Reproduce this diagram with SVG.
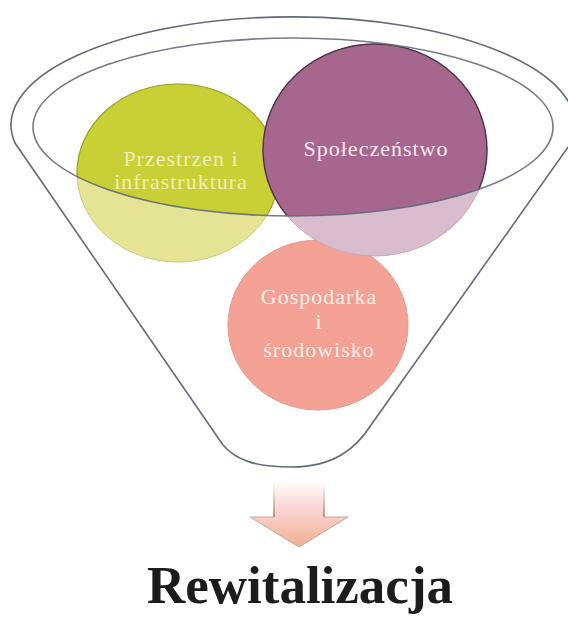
<svg xmlns="http://www.w3.org/2000/svg" width="568" height="617" viewBox="0 0 568 617">
  <style>
    .rim { fill: none; stroke: #646a7a; stroke-width: 1.6; }
    .lbl { font-family: "Liberation Serif", "Times New Roman", serif; font-size: 22px; text-anchor: middle; letter-spacing: 1px; }
    .title { font-family: "Liberation Serif", "Times New Roman", serif; font-size: 53px; font-weight: bold; text-anchor: middle; fill: #1c1c1c; }
  </style>
  <defs>
    <clipPath id="rimClip">
      <ellipse cx="293" cy="127" rx="260" ry="89"/>
    </clipPath>
    <linearGradient id="arrowFill" x1="0" y1="0" x2="0" y2="1">
      <stop offset="0" stop-color="#ffffff"/>
      <stop offset="0.45" stop-color="#f9d3d3"/>
      <stop offset="1" stop-color="#f1b08f"/>
    </linearGradient>
    <linearGradient id="shaftEdge" x1="0" y1="0" x2="0" y2="1">
      <stop offset="0" stop-color="#ffffff"/>
      <stop offset="1" stop-color="#b46e60"/>
    </linearGradient>
  </defs>

  <rect width="568" height="617" fill="#ffffff"/>

  <!-- funnel -->
  <g id="funnel">
    <path class="rim" fill="#ffffff" d="M 15,143 A 282 108 0 1 1 571,143 L 371,425 C 357,447 335,467 292,467 C 255,467 236,460 223,445 Z"/>
  </g>

  <!-- Gospodarka i środowisko -->
  <g id="node-gospodarka">
    <ellipse cx="318" cy="325" rx="90" ry="85" fill="#f3a194" stroke="#e59a8e" stroke-width="1"/>
    <text class="lbl" fill="#fbefe9" x="319" y="304">Gospodarka</text>
    <text class="lbl" fill="#fbefe9" x="319" y="329">i</text>
    <text class="lbl" fill="#fbefe9" x="319" y="357">środowisko</text>
  </g>

  <!-- Przestrzen i infrastruktura -->
  <g id="node-przestrzen">
    <ellipse cx="178" cy="173" rx="101" ry="89" fill="#e5e394" stroke="#c8c980" stroke-width="1"/>
    <ellipse cx="178" cy="173" rx="101" ry="89" fill="#c9d035" stroke="#9ea329" stroke-width="1.2" clip-path="url(#rimClip)"/>
    <text class="lbl" fill="#eeeebb" x="181" y="166">Przestrzen i</text>
    <text class="lbl" fill="#eeeebb" x="181" y="189">infrastruktura</text>
  </g>

  <!-- Społeczeństwo -->
  <g id="node-spoleczenstwo">
    <ellipse cx="375" cy="150" rx="112" ry="106" fill="#d9bccd" stroke="#c8a8bc" stroke-width="1"/>
    <ellipse cx="375" cy="150" rx="112" ry="106" fill="#a6668e" stroke="#4e3346" stroke-width="1.4" clip-path="url(#rimClip)"/>
    <text class="lbl" fill="#f4e8ef" x="376" y="156">Społeczeństwo</text>
  </g>

  <!-- rim ellipse drawn over circles -->
  <g id="rim">
    <ellipse class="rim" cx="293" cy="127" rx="260" ry="89" stroke-opacity="0.9"/>
  </g>

  <!-- arrow -->
  <g id="connectors">
    <path d="M 274,480 L 324,480 L 324,517 L 348,517 L 299,547 L 250,517 L 274,517 Z" fill="url(#arrowFill)"/>
    <path d="M 274,482 L 274,517 M 324,482 L 324,517" stroke="url(#shaftEdge)" stroke-width="1.5" fill="none"/>
    <path d="M 274,517 L 250,517 L 299,547 L 348,517 L 324,517" stroke="#c9a597" stroke-width="1" fill="none"/>
  </g>

  <g id="title">
    <text class="title" x="300" y="603">Rewitalizacja</text>
  </g>
</svg>
